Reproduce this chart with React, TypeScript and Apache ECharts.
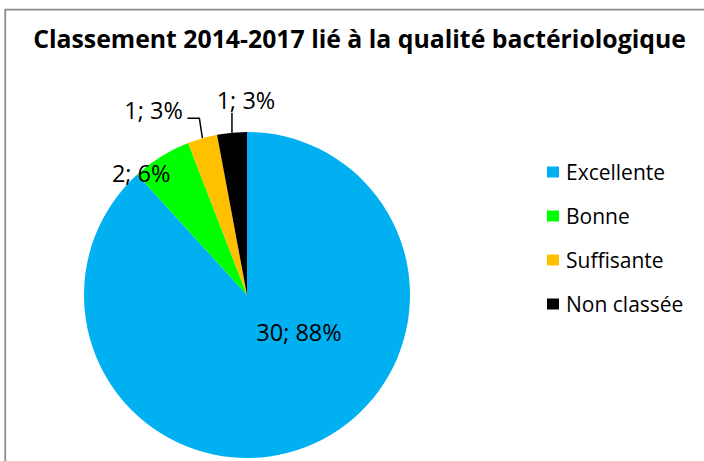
import React, { useEffect, useRef } from "react";
import * as echarts from "echarts";

const TITLE = "Classement 2014-2017 lié à la qualité bactériologique";
const CATEGORIES = ["Excellente", "Bonne", "Suffisante", "Non classée"];
const VALUES = [30, 2, 1, 1];
const COLORS = ["#00B0F0", "#00FF00", "#FFC000", "#000000"];

const FONT = "'Open Sans', sans-serif";
const CX = 247;
const CY = 295;
const R = 163;

function midAngles(values: number[]): number[] {
  const total = values.reduce((a, b) => a + b, 0);
  let start = 90;
  return values.map((v) => {
    const span = (v / total) * 360;
    const mid = start - span / 2;
    start -= span;
    return mid;
  });
}

export default function App() {
  const ref = useRef<HTMLDivElement>(null);
  useEffect(() => {
    if (!ref.current) return;
    const chart = echarts.init(ref.current, undefined, { renderer: "svg" });
    const mids = midAngles(VALUES);
    const edge = (i: number) => {
      const a = (mids[i] * Math.PI) / 180;
      return [CX + R * Math.cos(a), CY - R * Math.sin(a)];
    };
    chart.setOption({
      animation: false,
      backgroundColor: "#fff",
      title: {
        text: TITLE,
        left: 354.5,
        top: 18,
        textAlign: "center",
        textStyle: {
          fontFamily: FONT,
          fontWeight: "bold",
          fontSize: 24.8,
          lineHeight: 30,
          color: "#000",
        },
      },
      graphic: [
        {
          type: "rect",
          z: -1,
          shape: { x: 5.25, y: 9.5, width: 760, height: 500 },
          style: { fill: "none", stroke: "#898989", lineWidth: 1.75 },
          silent: true,
        },
      ],
      legend: {
        orient: "vertical",
        left: 542,
        top: 156,
        itemWidth: 12,
        itemHeight: 11,
        itemGap: 22,
        icon: "rect",
        selectedMode: false,
        data: CATEGORIES,
        textStyle: {
          fontFamily: FONT,
          fontSize: 21,
          lineHeight: 22,
          color: "#000",
          padding: [0, 0, 0, 2],
        },
      },
      series: [
        {
          type: "pie",
          center: [CX, CY],
          radius: R,
          startAngle: 90,
          clockwise: true,
          silent: true,
          avoidLabelOverlap: false,
          emphasis: { disabled: true },
          label: {
            show: true,
            position: "outside",
            fontFamily: FONT,
            fontSize: 23.5,
            color: "#000",
            formatter: (p: any) => `${p.value}; ${Math.round(p.percent)}%`,
          },
          labelLine: {
            show: true,
            length: 20,
            length2: 12,
            lineStyle: { color: "#000", width: 1.5 },
          },
          labelLayout: (p: any) => {
            const i = p.dataIndex;
            const [ex, ey] = edge(i);
            if (i === 0) {
              return { x: CX + 52, y: CY + 37, align: "center", verticalAlign: "middle" };
            }
            if (i === 1) {
              return { x: ex - 20, y: ey + 17, align: "center", verticalAlign: "middle" };
            }
            if (i === 2) {
              return {
                x: ex - 19.5,
                y: ey - 28,
                align: "right",
                verticalAlign: "middle",
                labelLinePoints: [
                  [ex, ey],
                  [ex - 3, ey - 20],
                  [ex - 15, ey - 20],
                ],
              };
            }
            return {
              x: ex + 14,
              y: ey - 33,
              align: "center",
              verticalAlign: "middle",
              labelLinePoints: [
                [ex, ey],
                [ex, ey - 20],
              ],
            };
          },
          data: CATEGORIES.map((name, i) => ({
            name,
            value: VALUES[i],
            itemStyle: { color: COLORS[i] },
            labelLine: { show: i >= 2 },
          })),
        },
      ],
    });
    return () => chart.dispose();
  }, []);
  return (
    <div
      ref={ref}
      style={{ position: "fixed", left: 0, top: 0, width: 704, height: 461 }}
    />
  );
}
